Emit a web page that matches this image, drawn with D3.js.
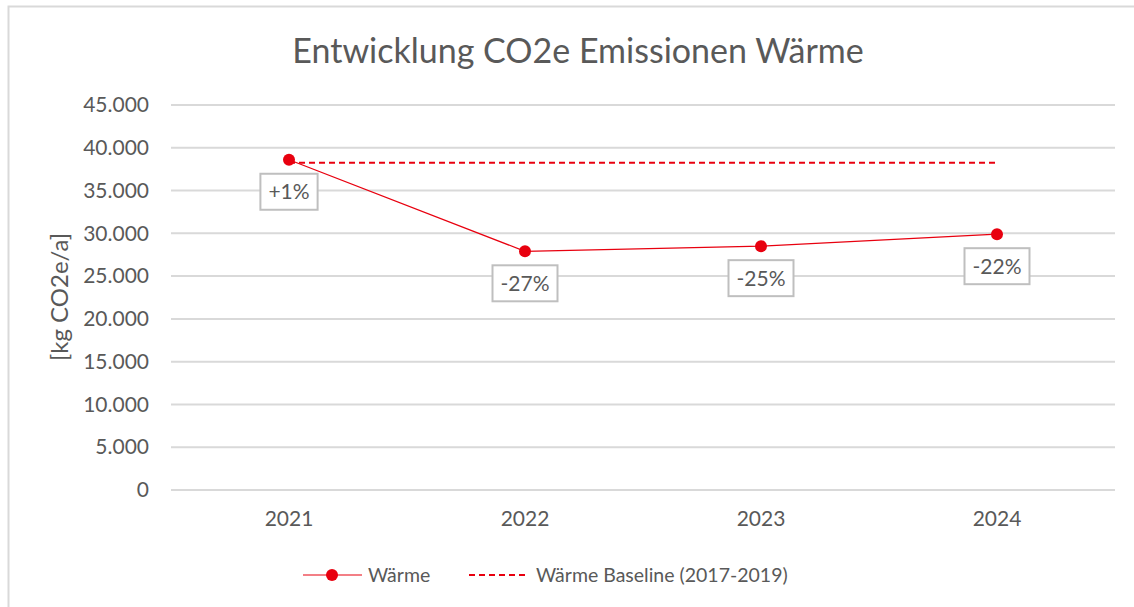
<!DOCTYPE html>
<html>
<head>
<meta charset="utf-8">
<script src="https://cdn.jsdelivr.net/npm/d3@7/dist/d3.min.js"></script>
<style>
  body { margin: 0; background: #fff; }
  text { font-family: Lato, "Open Sans", sans-serif; fill: #595959; }
</style>
</head>
<body>
<svg id="chart" width="1134" height="607"></svg>
<script>
// data
const years = ['2021', '2022', '2023', '2024'];
const waerme = [38600, 27900, 28500, 29900];
const baseline = [38250, 38250, 38250, 38250];
const labels = ['+1%', '-27%', '-25%', '-22%'];
const yTicks = [0, 5000, 10000, 15000, 20000, 25000, 30000, 35000, 40000, 45000];

const red = '#e8000f';
const grid = '#d9d9d9';

const svg = d3.select('#chart');
const margin = { left: 171, right: 19, top: 105, bottom: 117 };
const width = 1134 - margin.left - margin.right;
const height = 607 - margin.top - margin.bottom;

// outer chart frame (only top/left visible in the crop)
svg.append('path')
  .attr('d', 'M8.5,607 V6.5 H1134')
  .attr('fill', 'none')
  .attr('stroke', grid)
  .attr('stroke-width', 2);

svg.append('text')
  .attr('x', 578)
  .attr('y', 63)
  .attr('text-anchor', 'middle')
  .style('font-size', '34px')
  .text('Entwicklung CO2e Emissionen Wärme');

const g = svg.append('g').attr('transform', `translate(${margin.left},${margin.top})`);

const x = d3.scaleBand().domain(years).range([0, width]);
const y = d3.scaleLinear().domain([0, 45000]).range([height, 0]);
const fmt = d3.formatLocale({ decimal: ',', thousands: '.', grouping: [3], currency: ['', '€'] }).format(',');

// gridlines
g.append('g')
  .selectAll('line')
  .data(yTicks)
  .join('line')
  .attr('x1', 0)
  .attr('x2', width)
  .attr('y1', d => y(d))
  .attr('y2', d => y(d))
  .attr('stroke', grid)
  .attr('stroke-width', 2);

const yAxis = g.append('g')
  .call(d3.axisLeft(y).tickValues(yTicks).tickFormat(fmt).tickSize(0).tickPadding(22));
yAxis.select('.domain').remove();
yAxis.selectAll('text').style('font-size', '21px').style('fill', '#595959');

const xAxis = g.append('g')
  .attr('transform', `translate(0,${height})`)
  .call(d3.axisBottom(x).tickSize(0).tickPadding(21));
xAxis.select('.domain').remove();
xAxis.selectAll('text').style('font-size', '21px').style('fill', '#595959');

svg.append('text')
  .attr('transform', 'translate(68,297) rotate(-90)')
  .attr('text-anchor', 'middle')
  .style('font-size', '24px')
  .text('[kg CO2e/a]');

const cx = d => x(d) + x.bandwidth() / 2;

// baseline
g.append('path')
  .datum(baseline)
  .attr('fill', 'none')
  .attr('stroke', red)
  .attr('stroke-width', 2.2)
  .attr('stroke-dasharray', '6,4')
  .attr('d', d3.line().x((d, i) => cx(years[i])).y(d => y(d)));

// Wärme series
g.append('path')
  .datum(waerme)
  .attr('fill', 'none')
  .attr('stroke', red)
  .attr('stroke-width', 1.2)
  .attr('d', d3.line().x((d, i) => cx(years[i])).y(d => y(d)));

g.selectAll('circle.pt')
  .data(waerme)
  .join('circle')
  .attr('class', 'pt')
  .attr('cx', (d, i) => cx(years[i]))
  .attr('cy', d => y(d))
  .attr('r', 6)
  .attr('fill', red);

// data labels
const lab = g.selectAll('g.lab')
  .data(waerme)
  .join('g')
  .attr('class', 'lab')
  .attr('transform', (d, i) => `translate(${cx(years[i])},${y(d) + 32})`);

lab.append('text')
  .attr('text-anchor', 'middle')
  .attr('dy', '0.35em')
  .style('font-size', '21px')
  .text((d, i) => labels[i]);

lab.each(function() {
  const t = d3.select(this).select('text');
  const b = t.node().getBBox();
  d3.select(this).insert('rect', 'text')
    .attr('x', b.x - 8)
    .attr('y', -18)
    .attr('width', b.width + 16)
    .attr('height', 36)
    .attr('fill', '#fff')
    .attr('stroke', '#bfbfbf')
    .attr('stroke-width', 2);
});

// legend
const leg = svg.append('g').attr('transform', 'translate(0,575)');
leg.append('line').attr('x1', 303).attr('x2', 362).attr('stroke', red).attr('stroke-width', 1.2);
leg.append('circle').attr('cx', 332).attr('r', 6).attr('fill', red);
leg.append('text').attr('x', 368).attr('dy', '0.35em').style('font-size', '19.5px').text('Wärme');
leg.append('line').attr('x1', 469).attr('x2', 528).attr('stroke', red).attr('stroke-width', 2.2).attr('stroke-dasharray', '6,4');
leg.append('text').attr('x', 536).attr('dy', '0.35em').style('font-size', '19.5px').text('Wärme Baseline (2017-2019)');
</script>
</body>
</html>
